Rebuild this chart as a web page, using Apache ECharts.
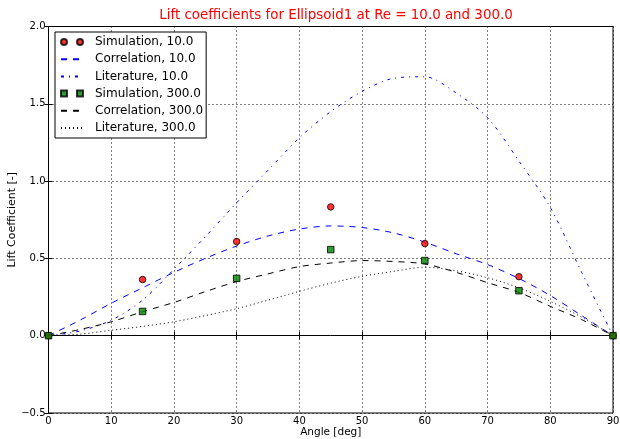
<!DOCTYPE html>
<html><head><meta charset="utf-8">
<script src="https://cdn.jsdelivr.net/npm/echarts@6/dist/echarts.min.js"></script>
<style>html,body{margin:0;padding:0;background:#fff}#c{width:620px;height:439px}</style>
</head><body><div id="c"></div>
<script>
const angles = [0,5,10,15,20,25,30,35,40,45,50,55,60,65,70,75,80,85,90];
const corr10 = [0,0.10,0.21,0.31,0.41,0.50,0.58,0.645,0.69,0.71,0.70,0.665,0.605,0.53,0.46,0.37,0.26,0.13,0];
const lit10 = [0,0.03,0.10,0.23,0.43,0.64,0.86,1.07,1.28,1.45,1.58,1.665,1.675,1.57,1.41,1.13,0.83,0.41,0];
const corr300 = [0,0.04,0.09,0.155,0.215,0.285,0.35,0.40,0.447,0.47,0.486,0.48,0.464,0.41,0.343,0.28,0.19,0.104,0];
const lit300 = [0,0.01,0.035,0.06,0.09,0.13,0.175,0.23,0.287,0.34,0.384,0.416,0.443,0.42,0.375,0.31,0.222,0.12,0];
const simAngles = [0,15,30,45,60,75,90];
const sim10 = [0,0.363,0.609,0.833,0.596,0.382,0];
const sim300 = [0,0.157,0.371,0.557,0.486,0.291,0];
const xTicks = [0,10,20,30,40,50,60,70,80,90];
const yTicks = [-0.5,0,0.5,1.0,1.5,2.0];

const pair = (xs, ys) => xs.map((x, i) => [x, ys[i]]);
const font = 'DejaVu Sans';
const chart = echarts.init(document.getElementById('c'), null, {renderer: 'canvas'});
const twoCircles = 'path://M0,0M22,10M6,5a3,3 0 1,0 -6,0a3,3 0 1,0 6,0zM22,5a3,3 0 1,0 -6,0a3,3 0 1,0 6,0z';
const twoSquares = 'path://M0,0M22,10M0,2h6v6h-6zM16,2h6v6h-6z';
const noSym = {opacity: 0};
const gridLine = {show: true, lineStyle: {type: [1, 3], color: '#000', width: 1}};
const tickIn = {show: true, inside: true, length: 4, lineStyle: {color: '#000'}};
chart.setOption({
  animation: false,
  title: {text: 'Lift coefficients for Ellipsoid1 at Re = 10.0 and 300.0', left: 331, textAlign: 'center', top: 4,
    textStyle: {color: '#ff0000', fontFamily: font, fontSize: 13.4, fontWeight: 'normal'}},
  grid: {left: 48.5, right: 7, top: 26.5, bottom: 26, show: true, borderColor: '#000', borderWidth: 1,
    containLabel: false, outerBoundsMode: 'none'},
  legend: {left: 55, top: 32, orient: 'vertical', backgroundColor: '#fff', borderColor: '#000', borderWidth: 1,
    padding: [4, 3, 4, 5], itemWidth: 22, itemHeight: 10, itemGap: 5.2,
    textStyle: {fontFamily: font, fontSize: 12, lineHeight: 12, color: '#000', padding: [0, 0, 0, 7]},
    data: [
      {name: 'Simulation, 10.0', icon: twoCircles},
      {name: 'Correlation, 10.0', itemStyle: noSym},
      {name: 'Literature, 10.0', itemStyle: noSym},
      {name: 'Simulation, 300.0', icon: twoSquares},
      {name: 'Correlation, 300.0', itemStyle: noSym},
      {name: 'Literature, 300.0', itemStyle: noSym}
    ]},
  xAxis: [{type: 'value', min: 0, max: 90, interval: 10, name: 'Angle [deg]', nameLocation: 'middle', nameGap: 14,
    nameMoveOverlap: false,
    nameTextStyle: {fontFamily: font, fontSize: 10.5, color: '#000'},
    axisLine: {show: true, lineStyle: {color: '#000'}}, axisTick: tickIn, splitLine: gridLine,
    axisLabel: {fontFamily: font, fontSize: 10, color: '#000', margin: 3,
      formatter: v => xTicks.includes(v) ? String(v) : ''}},
    {type: 'value', position: 'top', min: 0, max: 90, interval: 10, axisLine: {show: false}, axisTick: tickIn,
    axisLabel: {show: false}, splitLine: {show: false}}],
  yAxis: [{type: 'value', min: -0.5, max: 2.0, interval: 0.5, name: 'Lift Coefficient [-]', nameLocation: 'middle', nameGap: 30.5,
    nameMoveOverlap: false,
    nameTextStyle: {fontFamily: font, fontSize: 11, color: '#000'},
    axisLine: {show: true, lineStyle: {color: '#000'}}, axisTick: tickIn, splitLine: gridLine,
    axisLabel: {fontFamily: font, fontSize: 10, color: '#000', margin: 3,
      formatter: v => yTicks.some(t => Math.abs(t - v) < 1e-9) ? v.toFixed(1).replace('-', '\u2212') : ''}},
    {type: 'value', position: 'right', min: -0.5, max: 2.0, interval: 0.5, axisLine: {show: false}, axisTick: tickIn,
    axisLabel: {show: false}, splitLine: {show: false}}],
  series: [
    {name: 'Simulation, 10.0', type: 'scatter', data: pair(simAngles, sim10), symbol: 'circle', symbolSize: 6.5, z: 5,
      itemStyle: {color: '#ff0000', borderColor: '#000', borderWidth: 1}},
    {name: 'Correlation, 10.0', type: 'line', data: pair(angles, corr10), symbol: 'none', smooth: 0.3, z: 3,
      lineStyle: {color: '#0000ff', width: 1, type: [6, 6]}, itemStyle: {color: '#0000ff'}},
    {name: 'Literature, 10.0', type: 'line', data: pair(angles, lit10), symbol: 'none', smooth: 0.3, z: 3,
      lineStyle: {color: '#0000ff', width: 1, type: [3, 5, 1, 5]}, itemStyle: {color: '#0000ff'}},
    {name: 'Simulation, 300.0', type: 'scatter', data: pair(simAngles, sim300), symbol: 'rect', symbolSize: 6.5, z: 6,
      itemStyle: {color: '#008000', borderColor: '#000', borderWidth: 1}},
    {name: 'Correlation, 300.0', type: 'line', data: pair(angles, corr300), symbol: 'none', smooth: 0.3, z: 3,
      lineStyle: {color: '#000', width: 1, type: [6, 6]}, itemStyle: {color: '#000'}},
    {name: 'Literature, 300.0', type: 'line', data: pair(angles, lit300), symbol: 'none', smooth: 0.3, z: 3,
      lineStyle: {color: '#000', width: 1, type: [1, 3]}, itemStyle: {color: '#000'}}
  ]
});
</script></body></html>
